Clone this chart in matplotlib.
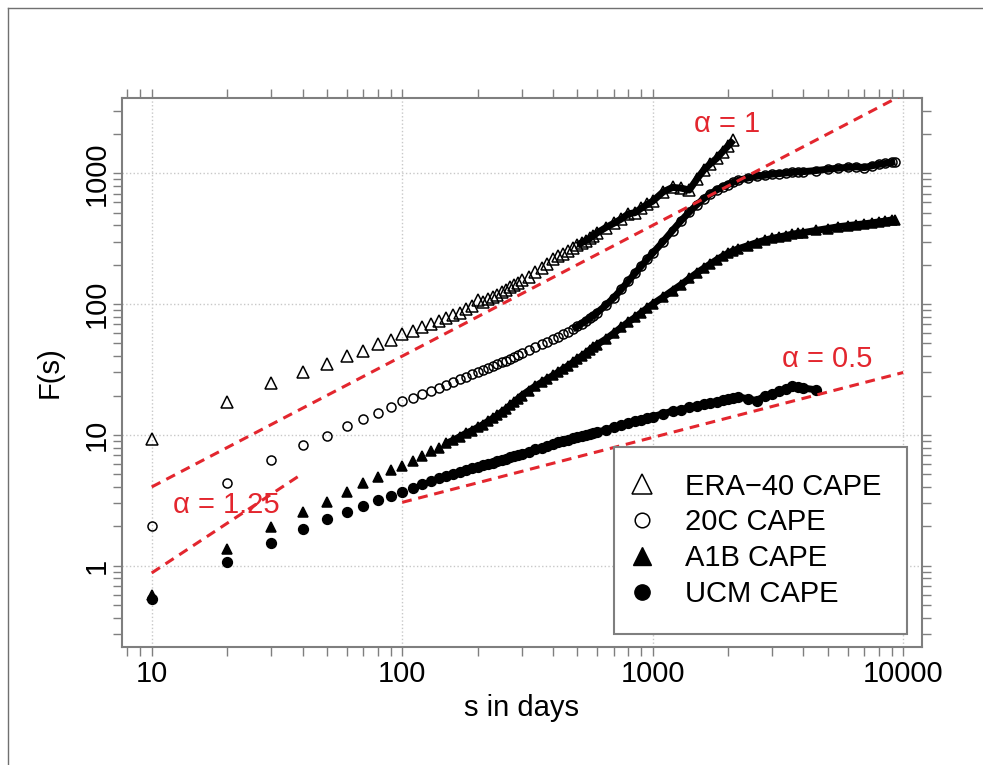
import numpy as np
import matplotlib

matplotlib.use("Agg")
import matplotlib.pyplot as plt
from matplotlib.lines import Line2D
from matplotlib.ticker import LogLocator, FuncFormatter, NullFormatter

plt.rcParams["font.family"] = ["Liberation Sans", "DejaVu Sans"]

# window length s (days) shared by all four fluctuation functions
S_DAYS = [
    10, 20, 30, 40, 50, 60, 70, 80, 90, 100,
    110, 120, 130, 140, 150, 160, 170, 180, 190, 200,
    210, 220, 230, 240, 250, 260, 270, 280, 290, 300,
    320, 340, 360, 380, 400, 420, 440, 460, 480, 500, 520, 540, 560, 580, 600,
    650, 700, 750, 800, 850, 900, 950, 1000,
    1100, 1200, 1300, 1400, 1500, 1600, 1700, 1800, 1900, 2000, 2100,
    2200, 2400, 2600, 2800, 3000, 3200, 3400, 3600, 3800, 4000,
    4500, 5000, 5500, 6000, 6500, 7000, 7500, 8000, 8500, 9000, 9300,
]

F_ERA40 = [
    9.3, 17.8, 24.8, 30.4, 34.8, 40.1, 44.0, 49.5, 53.0, 59.0,
    62.5, 66.5, 70.5, 74.0, 78.5, 82.0, 86.0, 91.0, 97.0, 108.0,
    104.0, 110.0, 114.0, 118.0, 124.0, 128.0, 134.0, 140.0, 146.0, 152.0,
    162, 176, 190, 204, 220, 232, 242, 256, 268, 282, 294, 306, 318, 334, 350,
    385, 415, 448, 490, 500, 540, 578, 612,
    720, 780, 770, 745, 900, 1060, 1185, 1300, 1460, 1620, 1800,
]

F_20C = [
    2.01, 4.31, 6.43, 8.32, 9.8, 11.6, 13.3, 14.8, 16.2, 18.2,
    19.3, 20.5, 21.7, 23.0, 24.2, 25.5, 26.6, 27.8, 29.0, 30.0,
    31.2, 32.3, 33.4, 34.6, 35.8, 37.0, 38.3, 39.6, 41.0, 42.5,
    44.8, 47.0, 49.2, 51.5, 54.0, 56.5, 59.0, 61.5, 64.5, 67.5, 70.8, 74.2, 77.8, 81.8, 86.0,
    98, 112, 130, 150, 172, 195, 220, 245,
    300, 365, 435, 505, 575, 640, 695, 745, 785, 820, 855,
    885, 920, 950, 965, 985, 995, 1005, 1015, 1025, 1030,
    1050, 1075, 1095, 1110, 1120, 1105, 1140, 1170, 1190, 1210, 1225,
]

F_A1B = [
    0.60, 1.33, 1.99, 2.56, 3.09, 3.68, 4.27, 4.74, 5.39, 5.8,
    6.3, 6.9, 7.5, 8.0, 8.6, 9.1, 9.7, 10.3, 10.8, 11.4,
    12.0, 12.7, 13.4, 14.1, 15.0, 15.8, 16.8, 17.8, 18.9, 20.0,
    21.8, 23.6, 25.2, 26.8, 28.5, 30.2, 32.0, 33.8, 35.8, 38.0, 40.0, 42.0, 44.5, 47.0, 49.0,
    54, 60, 66.5, 73, 79, 86, 93, 100,
    113, 127, 141, 157, 173, 188, 203, 218, 232, 245, 256,
    265, 280, 295, 308, 318, 326, 334, 342, 348, 352,
    366, 378, 390, 398, 405, 411, 418, 425, 432, 440, 436,
]

F_UCM = [
    0.56, 1.06, 1.50, 1.90, 2.27, 2.59, 2.86, 3.18, 3.43, 3.68,
    3.95, 4.2, 4.45, 4.65, 4.85, 5.0, 5.2, 5.4, 5.55, 5.7,
    5.85, 6.0, 6.15, 6.3, 6.45, 6.6, 6.75, 6.9, 7.05, 7.2,
    7.45, 7.75, 8.0, 8.25, 8.5, 8.75, 9.0, 9.2, 9.4, 9.6, 9.8, 9.95, 10.1, 10.3, 10.5,
    10.9, 11.4, 11.9, 12.3, 12.7, 13.1, 13.5, 13.8,
    14.5, 15.2, 15.6, 16.2, 16.7, 17.2, 17.5, 18.0, 18.4, 18.9, 19.3,
    19.6, 18.8, 18.3, 19.8, 20.6, 21.5, 22.6, 23.6, 23.2, 22.8,
    22.1,
]

# power-law guide lines (end points)
GUIDE_A1_S, GUIDE_A1_F = [10, 10000], [4.0, 4000.0]
GUIDE_A125_S, GUIDE_A125_F = [10, 39], [0.88, 4.9]
GUIDE_A05_S, GUIDE_A05_F = [100, 10000], [3.05, 30.0]

RED = "#e3262e"
GREY = "#7f7f7f"

fig = plt.figure(figsize=(9.83, 7.65), dpi=100)
ax = fig.add_axes([122 / 983, 118 / 765, 800 / 983, 549 / 765])

series = [
    # values, marker, size, filled, s where the points merge into a band
    (F_ERA40, "^", 8.0, False, 500),
    (F_20C, "o", 6.5, False, 480),
    (F_A1B, "^", 7.5, True, 150),
    (F_UCM, "o", 7.0, True, 150),
]
for vals, mk, ms, filled, band_from in series:
    s = np.array(S_DAYS[: len(vals)], dtype=float)
    f = np.array(vals, dtype=float)
    band = s >= band_from
    ax.plot(s[band], f[band], "-", color="black", lw=5.0,
            solid_capstyle="butt", solid_joinstyle="round", zorder=2)
    ax.plot(s, f, linestyle="none", marker=mk, ms=ms,
            mfc="black" if filled else "none", mec="black",
            mew=1.1, zorder=3)

dash = dict(color=RED, lw=2.2, linestyle=(0, (3.2, 2.2)), zorder=4)
ax.plot(GUIDE_A1_S, GUIDE_A1_F, **dash)
ax.plot(GUIDE_A125_S, GUIDE_A125_F, **dash)
ax.plot(GUIDE_A05_S, GUIDE_A05_F, **dash)

ax.text(0.756, 0.953, "α = 1", transform=ax.transAxes, ha="center",
        va="center", color=RED, fontsize=21)
ax.text(0.881, 0.525, "α = 0.5", transform=ax.transAxes, ha="center",
        va="center", color=RED, fontsize=21)
ax.text(0.131, 0.259, "α = 1.25", transform=ax.transAxes, ha="center",
        va="center", color=RED, fontsize=21, zorder=5)

ax.set_xscale("log")
ax.set_yscale("log")
ax.set_xlim(7.61, 11890)
ax.set_ylim(0.239, 3765)

for axis in (ax.xaxis, ax.yaxis):
    axis.set_major_locator(LogLocator(base=10, numticks=12))
    axis.set_minor_locator(LogLocator(base=10, subs=np.arange(2, 10), numticks=100))
    axis.set_major_formatter(FuncFormatter(lambda v, _: f"{v:g}"))
    axis.set_minor_formatter(NullFormatter())

ax.tick_params(which="both", direction="out", length=6.5, width=1.0,
               color=GREY, top=True, right=True, labelsize=21, pad=3)
ax.tick_params(axis="y", labelrotation=90, pad=1.5)
for lab in ax.get_yticklabels():
    lab.set_va("center")

ax.grid(which="major", color="#c8c8c8", linestyle=":", linewidth=1.0)
ax.set_axisbelow(True)
for sp in ax.spines.values():
    sp.set_color(GREY)
    sp.set_linewidth(1.5)

handles = [
    Line2D([], [], ls="none", marker="^", ms=14, mfc="none", mec="black", mew=1.1),
    Line2D([], [], ls="none", marker="o", ms=10.5, mfc="none", mec="black", mew=1.1),
    Line2D([], [], ls="none", marker="^", ms=13, mfc="black", mec="black"),
    Line2D([], [], ls="none", marker="o", ms=11, mfc="black", mec="black"),
]
labels = ["ERA\u221240 CAPE", "20C CAPE", "A1B CAPE", "UCM CAPE"]
leg = ax.legend(handles, labels, loc="upper left", bbox_to_anchor=(0.615, 0.364),
                borderaxespad=0, fontsize=21, frameon=True, fancybox=False,
                framealpha=1, edgecolor=GREY, borderpad=0.87, labelspacing=0.27,
                handlelength=0.18, handletextpad=1.38)
leg.get_frame().set_linewidth(1.5)

fig.text(522 / 983, 1 - 708 / 765, "s in days", ha="center", va="center", fontsize=21)
fig.text(50 / 983, 1 - 372 / 765, "F(s)", ha="center", va="center",
         rotation=90, fontsize=21)

# thin frame around the page
fig.add_artist(Line2D([8 / 983, 8 / 983], [0, 1 - 8 / 765], transform=fig.transFigure,
                      color="#707070", lw=1.0))
fig.add_artist(Line2D([8 / 983, 1], [1 - 8 / 765, 1 - 8 / 765], transform=fig.transFigure,
                      color="#707070", lw=1.0))

fig.savefig("out.png", dpi=100)
